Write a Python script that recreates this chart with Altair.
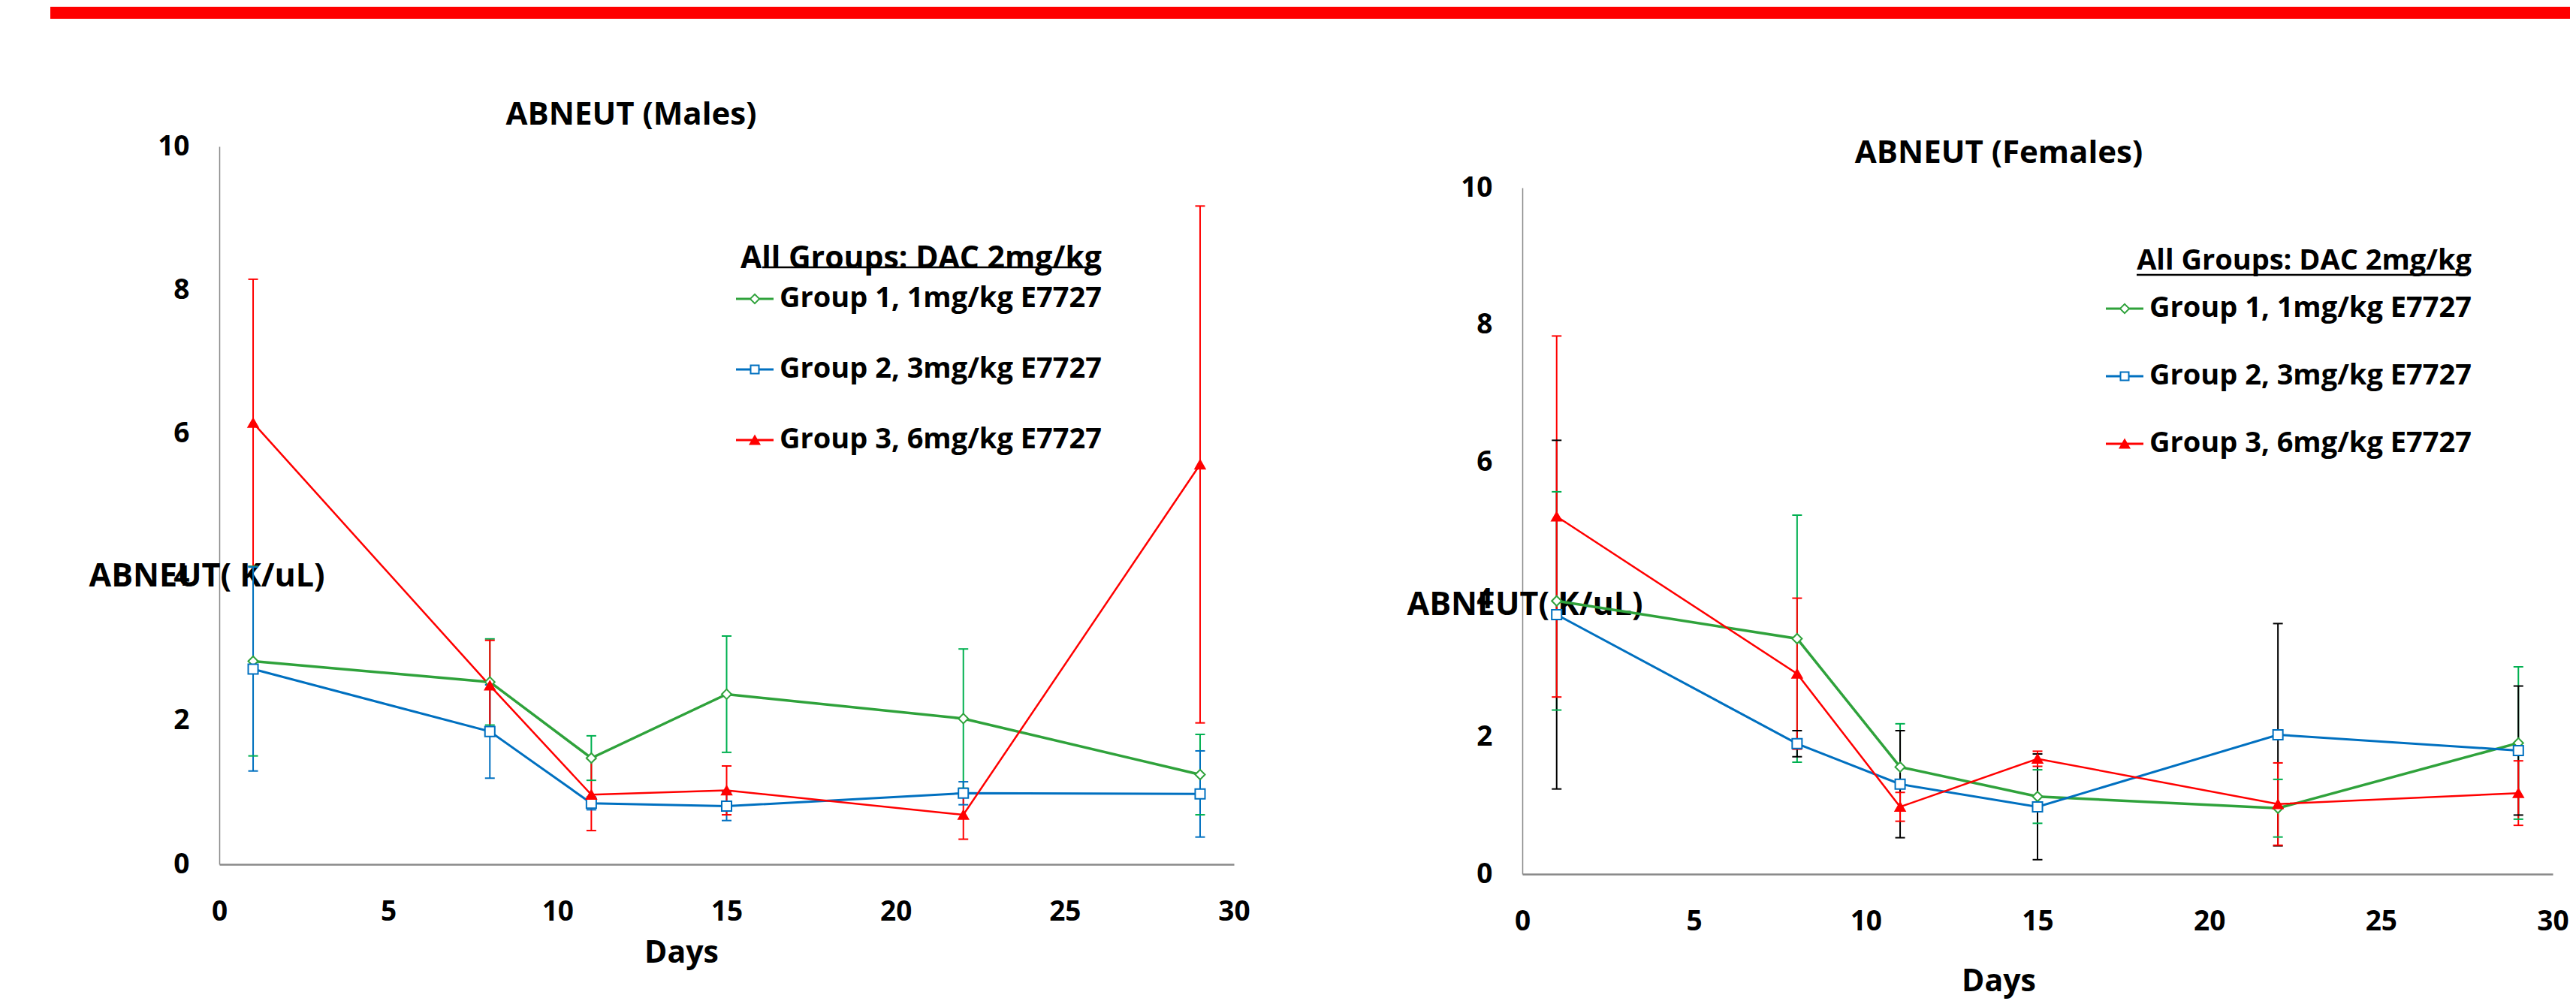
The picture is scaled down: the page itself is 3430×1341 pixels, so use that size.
import altair as alt
import pandas as pd

FONT = "Open Sans"

days = [1, 8, 11, 15, 22, 29]
groups = ["Group 1, 1mg/kg E7727", "Group 2, 3mg/kg E7727", "Group 3, 6mg/kg E7727"]
legend_title = "All Groups: DAC 2mg/kg"
x_ticks = [0, 5, 10, 15, 20, 25, 30]
y_ticks = [0, 2, 4, 6, 8, 10]
y_title = "ABNEUT( K/uL)"
x_title = "Days"
male_title = "ABNEUT (Males)"
female_title = "ABNEUT (Females)"

male_g1_mean = [2.83, 2.54, 1.48, 2.37, 2.03, 1.25]
male_g1_err = [1.32, 0.60, 0.31, 0.81, 0.97, 0.56]
male_g2_mean = [2.72, 1.85, 0.85, 0.81, 0.99, 0.98]
male_g2_err = [1.42, 0.65, 0.09, 0.20, 0.16, 0.60]
male_g3_mean = [6.15, 2.49, 0.97, 1.03, 0.69, 5.57]
male_g3_err = [2.00, 0.63, 0.50, 0.34, 0.34, 3.60]

female_g1_mean = [3.98, 3.43, 1.56, 1.13, 0.96, 1.91]
female_g1_err = [1.59, 1.80, 0.63, 0.39, 0.42, 1.11]
female_g2_mean = [3.78, 1.90, 1.31, 0.98, 2.03, 1.80]
female_g2_err = [2.54, 0.19, 0.78, 0.77, 1.62, 0.94]
female_g3_mean = [5.21, 2.92, 0.98, 1.68, 1.02, 1.18]
female_g3_err = [2.63, 1.10, 0.21, 0.11, 0.60, 0.47]

line_colors = ["#2FA23B", "#0070C0", "#FF0000"]
male_err_colors = ["#00B050", "#0070C0", "#FF0000"]
female_err_colors = ["#00B050", "#000000", "#FF0000"]
marker_shapes = ["diamond", "square", "triangle-up"]
marker_fills = ["#FFFFFF", "#FFFFFF", "#FF0000"]
marker_sizes = [170, 170, 230]
line_widths = [3.5, 2.5, 2.5]

# legend symbols: short line with the marker in its middle (unit box -1..1)
legend_paths = [
    "M-1,-0.06H-0.25V0.06H-1Z M0.25,-0.06H1V0.06H0.25Z "
    "M0,-0.3L0.3,0L0,0.3L-0.3,0Z M0,-0.19L-0.19,0L0,0.19L0.19,0Z",
    "M-1,-0.06H-0.26V0.06H-1Z M0.26,-0.06H1V0.06H0.26Z "
    "M-0.26,-0.26H0.26V0.26H-0.26Z M-0.18,-0.18V0.18H0.18V-0.18Z",
    "M-1,-0.06H1V0.06H-1Z M0,-0.3L0.32,0.26H-0.32Z",
]


def frame(means, errs):
    rows = []
    for g, m, e in zip(groups, means, errs):
        for d, mv, ev in zip(days, m, e):
            rows.append({"group": g, "day": d, "mean": mv,
                         "lo": round(mv - ev, 3), "hi": round(mv + ev, 3)})
    return pd.DataFrame(rows)


male_df = frame([male_g1_mean, male_g2_mean, male_g3_mean],
                [male_g1_err, male_g2_err, male_g3_err])
female_df = frame([female_g1_mean, female_g2_mean, female_g3_mean],
                  [female_g1_err, female_g2_err, female_g3_err])


def panel(df, width, height, yscale, err_colors, cfg, extra_layers=()):
    xscale = alt.Scale(domain=[0, 30], nice=False, zero=False)
    x_main = alt.X("day:Q", scale=xscale, axis=alt.Axis(
        orient="bottom", values=x_ticks, title=x_title, titleX=cfg["xtx"], titleY=cfg["xty"],
        titleAlign="center", titleBaseline="middle", titleFontSize=41,
        labelPadding=45, domainWidth=2.5, labelFlush=False, labelOverlap=False))
    x_plain = alt.X("day:Q", scale=xscale, axis=None)
    x_top = alt.X("day:Q", scale=xscale, axis=alt.Axis(
        orient="top", labels=False, ticks=False, domain=False, grid=False,
        title=cfg["title"], titleX=cfg["ttx"], titleY=cfg["tty"], titleAlign="center",
        titleBaseline="middle", titleFontSize=42))

    y_axis = alt.Axis(
        orient="left", values=y_ticks, title=y_title, titleAngle=0, titleAlign="left",
        titleBaseline="middle", titleX=cfg["ytx"], titleY=cfg["yty"], titleFontSize=43,
        labelPadding=40, domainWidth=1.5, labelFlush=False, labelOverlap=False)

    def y_enc(field):
        return alt.Y(field + ":Q", scale=yscale, axis=y_axis)

    err_color = alt.Color("group:N", scale=alt.Scale(domain=groups, range=err_colors), legend=None)
    base = alt.Chart(df)

    err_rule = base.mark_rule(strokeWidth=2).encode(
        x=x_plain, y=y_enc("lo"), y2="hi:Q", color=err_color)
    cap_lo = base.mark_tick(orient="horizontal", size=13, thickness=2, opacity=1).encode(
        x=x_plain, y=y_enc("lo"), color=err_color)
    cap_hi = base.mark_tick(orient="horizontal", size=13, thickness=2, opacity=1).encode(
        x=x_plain, y=y_enc("hi"), color=err_color)
    lines = base.mark_line().encode(
        x=x_main, y=y_enc("mean"),
        color=alt.Color("group:N", scale=alt.Scale(domain=groups, range=line_colors), legend=None),
        strokeWidth=alt.StrokeWidth("group:N", scale=alt.Scale(domain=groups, range=line_widths),
                                    legend=None))
    points = base.mark_point(opacity=1, strokeWidth=2, fillOpacity=1).encode(
        x=x_plain, y=y_enc("mean"),
        color=alt.Color("group:N", scale=alt.Scale(domain=groups, range=line_colors), legend=None),
        fill=alt.Fill("group:N", scale=alt.Scale(domain=groups, range=marker_fills), legend=None),
        shape=alt.Shape("group:N", scale=alt.Scale(domain=groups, range=marker_shapes), legend=None),
        size=alt.Size("group:N", scale=alt.Scale(domain=groups, range=marker_sizes), legend=None))

    leg = alt.Legend(
        title=legend_title, orient="none", legendX=cfg["lx"], legendY=cfg["ly"], padding=0,
        titleFont=FONT, titleFontSize=cfg["tfs"], titleFontWeight="bold", titleColor="black",
        titleAnchor="end", titlePadding=cfg["tpad"], titleLimit=2000,
        labelFont=FONT, labelFontSize=38, labelFontWeight="bold", labelColor="black",
        labelOffset=8, labelLimit=2000, symbolSize=2500, symbolStrokeWidth=0,
        rowPadding=cfg["rpad"])
    legend_layer = base.transform_filter("datum.day < 0").mark_point(filled=True, opacity=1).encode(
        x=x_top, y=y_enc("mean"),
        color=alt.Color("group:N", scale=alt.Scale(domain=groups, range=line_colors), legend=leg),
        shape=alt.Shape("group:N", scale=alt.Scale(domain=groups, range=legend_paths), legend=leg))

    underline = alt.Chart(pd.DataFrame({"k": [0]})).mark_rule(color="black", strokeWidth=2.5).encode(
        x=alt.value(cfg["ul"][0]), x2=alt.value(cfg["ul"][1]), y=alt.value(cfg["ul"][2]))

    layers = [err_rule, cap_lo, cap_hi, lines, points, legend_layer, underline] + list(extra_layers)
    return alt.layer(*layers).resolve_scale(
        color="independent", shape="independent", fill="independent",
        size="independent", strokeWidth="independent").properties(width=width, height=height)


red_bar = alt.Chart(pd.DataFrame({"k": [0]})).mark_rect(color="#FF0000").encode(
    x=alt.value(-225), x2=alt.value(3130), y=alt.value(-186), y2=alt.value(-170))

male_cfg = dict(title=male_title, ttx=548, tty=-43, ytx=-174, yty=572, xtx=615, xty=118,
                lx=688, ly=130, tfs=41, tpad=7, rpad=50, ul=(723, 1164, 161))
female_cfg = dict(title=female_title, ttx=634, tty=8, ytx=-154, yty=610, xtx=634, xty=143,
                  lx=777, ly=134, tfs=38, tpad=19, rpad=46, ul=(818, 1259, 171))

male = panel(male_df, 1351, 956, alt.Scale(domain=[0, 10], nice=False),
             male_err_colors, male_cfg, [red_bar])
female = panel(female_df, 1372, 969, alt.Scale(domain=[0, 10], range=[969, 55], nice=False),
               female_err_colors, female_cfg)

chart = alt.hconcat(male, female, spacing=384).properties(
    bounds="flush",
    padding={"left": 59, "top": 1, "right": 0, "bottom": 6},
).configure_view(stroke=None).configure_axis(
    grid=False, ticks=False, tickSize=0, domainColor="#898989",
    labelFont=FONT, labelFontSize=37, labelFontWeight="bold", labelColor="black",
    titleFont=FONT, titleFontWeight="bold", titleColor="black",
)

chart.save("out.html", embed_options={"renderer": "svg", "actions": False})
